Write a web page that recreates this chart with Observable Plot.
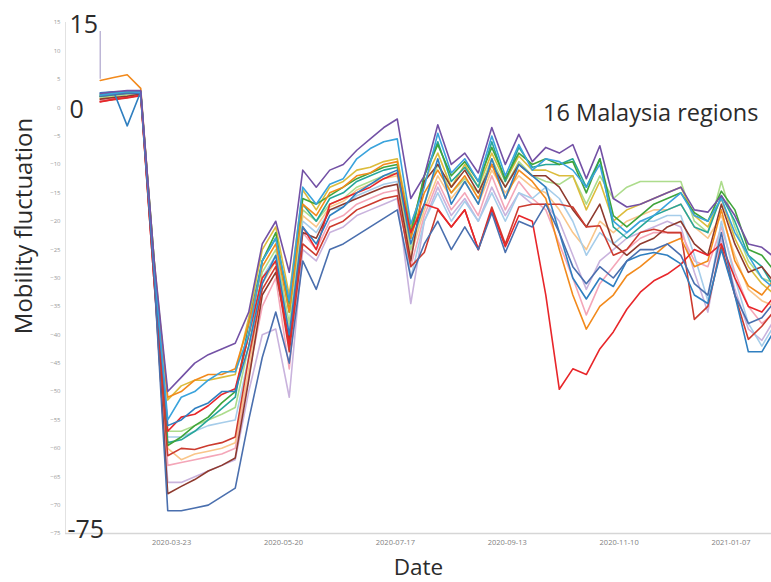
<!DOCTYPE html>
<html><head><meta charset="utf-8">
<script src="https://cdn.jsdelivr.net/npm/d3@7"></script>
<script src="https://cdn.jsdelivr.net/npm/@observablehq/plot@0.6"></script>
<style>body{margin:0;background:#fff;} #chart svg{display:block;}</style>
</head><body><div id="chart"></div>
<script>
const dates = ["2020-02-15","2020-02-22","2020-02-29","2020-03-07","2020-03-14","2020-03-21","2020-03-28","2020-04-04","2020-04-11","2020-04-18","2020-04-25","2020-05-02","2020-05-09","2020-05-16","2020-05-23","2020-05-30","2020-06-06","2020-06-13","2020-06-20","2020-06-27","2020-07-04","2020-07-11","2020-07-18","2020-07-25","2020-08-01","2020-08-08","2020-08-15","2020-08-22","2020-08-29","2020-09-05","2020-09-12","2020-09-19","2020-09-26","2020-10-03","2020-10-10","2020-10-17","2020-10-24","2020-10-31","2020-11-07","2020-11-14","2020-11-21","2020-11-28","2020-12-05","2020-12-12","2020-12-19","2020-12-26","2021-01-02","2021-01-09","2021-01-16","2021-01-23","2021-01-30"];

const regions = ["Putrajaya","Labuan","Perlis","Melaka","Terengganu","Kelantan","Pahang","Kedah","Perak","Johor","Sabah","Sarawak","Penang","Kuala Lumpur","Selangor","Negeri Sembilan"];
const colors = ["#c9b3dd","#f4a6b8","#f9c68a","#a6cdea","#addc8c","#dcbc3c","#26a69a","#3fa43a","#8e3a2e","#cc3b2f","#f28a1c","#e8262a","#2f7fc0","#4a6fae","#3aa3dc","#7351a5"];

const lavender = [2,2.4,2.7,2.8,-31,-66,-66,-65,-64,-63, -62,-50,-40,-39,-51,-25,-27,-22,-21,-19, -18,-17,-16,-34.5,-20,-14,-19,-16,-20,-14, -19,-15,-17,-17,-20,-26,-32,-27,-25,-23, -22,-21,-20,-21,-29,-36,-23,-32,-39,-41, -37];
const pink = [1.3,1.6,2,2.3,-30,-63,-62.5,-62,-61.5,-61, -60,-47,-35,-30,-46,-22,-25,-20,-19,-17, -16,-15,-14.5,-28,-19,-13,-18,-15,-19,-12, -18,-13,-16,-18,-24,-30,-36.5,-31,-28,-25, -23,-22,-22,-22,-27,-28,-21,-29,-35,-38, -36];
const lightOrange = [1.6,1.9,2.2,2.4,-29,-60,-62,-61,-60.5,-60, -59,-46,-31,-27,-39,-19,-21,-17.5,-16.5,-14.5, -13.5,-12.5,-12,-26,-18,-12,-16,-13,-17,-11, -15,-12,-14,-15,-18,-22,-25,-20,-22,-20, -19,-18,-18,-17,-21,-23,-19,-26,-32,-34, -35];
const lightBlue = [1.9,2.1,2.4,2.6,-29,-58,-58,-57,-56,-55.5, -55,-44,-30,-26,-40,-20,-22,-18,-17.5,-15.5, -14.5,-13.5,-13,-30,-20,-15,-20,-16.5,-20,-15, -20,-15,-16,-14,-16,-20,-26,-22,-24,-22, -20,-20,-19,-19,-26,-34,-20,-30,-38,-42, -38];
const lightGreen = [1.8,2,2.3,2.5,-28,-57,-57,-56,-55,-54, -52.8,-42,-29,-25,-38,-18,-20,-17,-16,-14, -13,-12,-11.5,-25,-17,-10,-15,-12.5,-15,-9, -14,-9.5,-12,-13,-13.5,-12,-17,-12,-16,-14, -13,-13,-13,-13,-20,-22,-13,-21,-27,-30, -31];
const gold = [2.2,2.4,2.6,2.6,-27,-51.5,-49,-48,-48,-47.5, -47,-37,-25,-21,-33,-14.5,-18,-14,-13,-11, -10.5,-9.5,-9,-21,-13,-8,-14,-10,-14,-8, -13,-8.5,-11,-11,-12,-12,-18,-13,-20,-18, -17,-16,-15,-14,-19,-21,-16,-23,-28,-31, -33];
const teal = [2.3,2.6,2.9,2.9,-28,-59,-58.5,-57,-55,-53, -51,-38,-27,-23,-34.5,-17,-20,-16,-15,-13, -12,-11,-10.5,-23,-12,-6,-13,-10.5,-14,-6, -13,-7,-10.5,-10,-10,-9,-14,-9,-21,-23, -21,-19,-18,-17,-21,-22,-15.5,-20,-26,-28, -32];
const green = [2,2.3,2.6,2.6,-27,-59.5,-58,-56,-54.5,-52, -50,-40,-27,-22,-36,-16,-17,-15.5,-14,-12.5, -11.5,-10.5,-10,-22,-12,-6.5,-12,-9.5,-13,-7, -12.5,-8,-10,-9,-10,-9.5,-15,-9,-19,-21, -19,-17,-16,-15,-18.5,-20,-14.7,-18,-25,-26, -29];
const brown = [1.5,1.8,2,2.4,-30,-68,-66.7,-65.5,-64,-63, -61.7,-48,-33,-29,-41,-22,-23,-18,-17,-16, -15,-14,-13.5,-27,-13,-10,-14,-11,-15,-10, -14,-10,-12,-12,-14,-18,-21,-17,-24,-26, -24,-23,-21,-20,-24,-26,-17,-24,-29,-28, -31];
const red2 = [1.1,1.4,1.7,2.1,-31,-61.3,-60,-60.2,-59.5,-59, -58,-44,-32,-28,-43,-24,-26,-21,-20,-18, -17,-16,-15.5,-28,-25.5,-18,-21,-18,-25,-17.5, -24,-17.5,-17,-17,-17,-17.5,-21,-20.8,-26,-25, -22,-21.4,-22,-22,-37.3,-35,-24.3,-33,-40.8,-38.5, -35.5];
const orange = [4.8,5.3,5.8,3.4,-28,-51,-50,-48,-47,-47, -46,-38,-28,-24,-36,-17,-19,-15,-14,-12, -11.5,-10,-9.5,-23,-15,-11,-15,-12,-16,-10, -16,-11,-13,-16,-25,-33,-39,-35,-33,-29.6, -28,-26,-24,-23,-28,-27,-18,-27,-31.4,-33, -30];
const red = [1,1.5,1.8,2.2,-31,-57,-54.5,-54,-52.5,-50.5, -49.5,-40,-30,-27,-42,-21,-25,-17,-16,-15, -14,-12.5,-11.5,-22,-17,-17.8,-21,-18,-25,-18, -24.5,-19,-20,-33,-49.6,-46,-47,-42.5,-39.5,-35.5, -32.5,-30.5,-29.3,-27.6,-25,-26,-24,-30,-35,-36, -33];
const blue = [2.6,2.8,-3.2,2.8,-29,-56,-55,-53,-52,-50, -50,-42,-31,-26,-40,-21,-24,-19,-17.5,-15, -13.5,-12,-11,-24,-17,-9,-17,-13,-17,-9, -16,-10,-12,-14,-22,-30,-33.7,-30,-31.5,-27, -26,-25.5,-26,-27.5,-33,-34.5,-25,-33,-43,-43, -39];
const steel = [2,2.3,2.5,2.5,-30,-71,-71,-70.5,-70,-68.5, -67,-55,-44,-36,-45,-27,-32,-25,-24,-22.5, -21,-19.5,-18,-30,-24,-20,-25,-21,-25,-18.5, -25.5,-20,-21,-17,-22,-28,-31,-28,-30,-27, -25,-25,-24,-26,-31,-33,-22,-33,-38,-37, -34];
const cyan = [2.2,2.5,2.8,2.7,-28,-55,-51,-50,-48,-46.5, -46.5,-40,-27,-23,-34,-14,-17,-13.5,-12.5,-9, -7.2,-6,-5.5,-20.5,-14,-4.5,-11.5,-9,-13,-5, -12,-6.5,-11,-9,-9.5,-11,-14,-10,-20,-22, -20,-19,-17,-15,-19,-20,-16,-22,-26,-30, -32];
const purple = [2.5,2.8,3,3,-27,-50,-47.5,-45,-43.5,-42.5, -41.5,-36,-24,-20,-29,-11,-14,-11,-10,-7.5, -5.5,-3.5,-2,-16,-12,-3,-10,-8,-11.5,-3.5, -10,-4.7,-9.5,-7,-8,-6.5,-12.5,-6.7,-16,-17.5, -17,-16,-15,-14,-18,-18.4,-15.5,-19,-24,-24.6, -26.5];

const seriesValues = [lavender,pink,lightOrange,lightBlue,lightGreen,gold,teal,green,brown,red2,orange,red,blue,steel,cyan,purple];

const xDomain = ["2020-01-28","2021-01-28"];
const xTicks = ["2020-03-23","2020-05-20","2020-07-17","2020-09-13","2020-11-10","2021-01-07"];
const yDomain = [-75, 15];
const yTicks = [-75,-70,-65,-60,-55,-50,-45,-40,-35,-30,-25,-20,-15,-10,-5,0,5,10,15];
const bigYLabels = [15, 0, -75];
const spike = [5, 13.4];
const yTitle = "Mobility fluctuation";
const xTitle = "Date";
const note = "16 Malaysia regions";

const rows = regions.flatMap((r, k) => seriesValues[k].map((v, i) => ({region: r, date: new Date(dates[i]), value: v})));

const font = "'Open Sans', 'Liberation Sans', sans-serif";
const ink = "#2b2b2b";
const chart = Plot.plot({
  width: 771, height: 582,
  marginLeft: 65, marginRight: 0, marginTop: 22, marginBottom: 49,
  style: {fontFamily: font, background: "#fff"},
  x: {type: "utc", domain: xDomain.map(d => new Date(d))},
  y: {domain: yDomain},
  color: {domain: regions, range: colors},
  marks: [
    Plot.ruleY([yDomain[0]], {stroke: "#d6d6d6", strokeWidth: 1.5}),
    Plot.ruleX([new Date(xDomain[0])], {stroke: "#e2e2e2", strokeWidth: 1}),
    Plot.ruleX([new Date(dates[0])], {y1: spike[0], y2: spike[1], stroke: "#b4acd0", strokeWidth: 1.3}),
    Plot.line(rows, {x: "date", y: "value", z: "region", stroke: "region", strokeWidth: 1.6, clip: true}),
    Plot.axisX({ticks: xTicks.map(d => new Date(d)), tickFormat: d3.utcFormat("%Y-%m-%d"), tickSize: 0, tickPadding: 6, fontSize: 7.5, color: "#808080", label: null}),
    Plot.axisY({ticks: yTicks, tickSize: 0, tickPadding: 5, fontSize: 6, color: "#9a9a9a", label: null}),
    Plot.text(bigYLabels.filter(d => d > yDomain[0]), {y: d => d, text: d => String(d), frameAnchor: "left", textAnchor: "start", lineAnchor: "middle", dx: 4, dy: 2, fontSize: 25, fill: ink}),
    Plot.text(bigYLabels.filter(d => d === yDomain[0]), {y: d => d, text: d => String(d), frameAnchor: "left", textAnchor: "start", lineAnchor: "middle", dx: 2, dy: -4, fontSize: 25, fill: ink}),
    Plot.text([yTitle], {frameAnchor: "left", textAnchor: "middle", lineAnchor: "middle", rotate: -90, dx: -41, dy: -52, fontSize: 24, fill: ink}),
    Plot.text([xTitle], {frameAnchor: "bottom", textAnchor: "middle", lineAnchor: "middle", dy: 34, fontSize: 22.5, fill: ink}),
    Plot.text([note], {frameAnchor: "top-right", textAnchor: "end", lineAnchor: "middle", dx: -13, dy: 91, fontSize: 23.5, fill: ink})
  ]
});
document.getElementById("chart").append(chart);
</script>
</body></html>
